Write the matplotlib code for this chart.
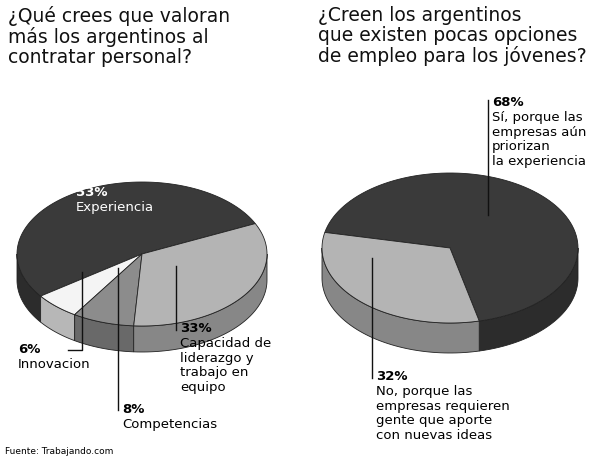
import numpy as np
import matplotlib.pyplot as plt
from matplotlib.patches import Polygon

# data
left_labels = ["Experiencia", "Innovacion", "Competencias", "Capacidad de liderazgo y trabajo en equipo"]
left_values = [53, 6, 8, 33]
left_colors = ["#3a3a3a", "#f4f4f4", "#8c8c8c", "#b4b4b4"]
right_labels = ["Sí", "No"]
right_values = [68, 32]
right_colors = ["#3a3a3a", "#b4b4b4"]


def shade(c, f=0.75):
    r, g, b = [int(c[i:i + 2], 16) / 255 for i in (1, 3, 5)]
    return (r * f, g * f, b * f)


def pie3d(ax, values, colors, cx, cy, rx, ry, depth, start):
    total = sum(values)
    a0 = start
    wedges = []
    for v, c in zip(values, colors):
        a1 = a0 + 360 * v / total
        wedges.append((a0, a1, c))
        a0 = a1
    # side walls (front half only: math angles 180..360)
    for a0, a1, c in wedges:
        for k in (0, 360, -360):
            lo, hi = max(a0 + k, 180), min(a1 + k, 360)
            if hi > lo:
                t = np.radians(np.linspace(lo, hi, 60))
                x = cx + rx * np.cos(t)
                y = cy - ry * np.sin(t)
                pts = np.column_stack([np.r_[x, x[::-1]], np.r_[y, (y + depth)[::-1]]])
                ax.add_patch(Polygon(pts, closed=True, fc=shade(c), ec="#222", lw=0.6))
    # top faces
    for a0, a1, c in wedges:
        t = np.radians(np.linspace(a0, a1, 100))
        x = np.r_[cx, cx + rx * np.cos(t)]
        y = np.r_[cy, cy - ry * np.sin(t)]
        ax.add_patch(Polygon(np.column_stack([x, y]), closed=True, fc=c, ec="#222", lw=0.6))


fig = plt.figure(figsize=(6, 4.61), dpi=100)
ax = fig.add_axes([0, 0, 1, 1])
ax.set_xlim(0, 600)
ax.set_ylim(461, 0)
ax.axis("off")

pie3d(ax, left_values, left_colors, 142, 254, 125, 72, 26, 25)
# light slice spans roughly 168°..283°, dark slice the rest
pie3d(ax, right_values, right_colors, 450, 248, 128, 75, 30, 283.2 - 360)

tf = dict(fontsize=13.5, va="top", ha="left", linespacing=1.05, color="#111")
ax.text(8, 6, "¿Qué crees que valoran\nmás los argentinos al\ncontratar personal?", **tf)
ax.text(318, 6, "¿Creen los argentinos\nque existen pocas opciones\nde empleo para los jóvenes?", **tf)

lf = dict(fontsize=9.5, va="top", ha="left", linespacing=1.15)
ax.text(76, 186, f"{left_values[0]}%", color="white", fontweight="bold", **lf)
ax.text(76, 201, "Experiencia", color="white", **lf)

def label(x, y, pct, txt):
    ax.text(x, y, f"{pct}%", fontweight="bold", **lf)
    ax.text(x, y + 15, txt, **lf)

ax.plot([68, 82, 82], [350, 350, 272], color="#111", lw=1)
label(18, 343, left_values[1], "Innovacion")
ax.plot([118, 118], [410, 268], color="#111", lw=1)
label(122, 403, left_values[2], "Competencias")
ax.plot([176, 176], [330, 266], color="#111", lw=1)
label(180, 322, left_values[3], "Capacidad de\nliderazgo y\ntrabajo en\nequipo")

ax.plot([488, 488], [100, 215], color="#111", lw=1)
label(492, 96, right_values[0], "Sí, porque las\nempresas aún\npriorizan\nla experiencia")
ax.plot([372, 372], [378, 258], color="#111", lw=1)
label(376, 370, right_values[1], "No, porque las\nempresas requieren\ngente que aporte\ncon nuevas ideas")

ax.text(5, 456, "Fuente: Trabajando.com", fontsize=6.5, va="bottom", ha="left")

fig.savefig("out.png", dpi=100)
